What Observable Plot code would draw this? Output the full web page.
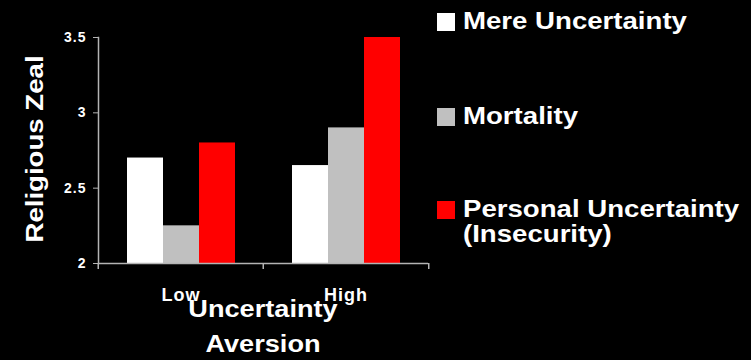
<!DOCTYPE html>
<html>
<head>
<meta charset="utf-8">
<script src="https://cdn.jsdelivr.net/npm/d3@7"></script>
<script src="https://cdn.jsdelivr.net/npm/@observablehq/plot@0.6"></script>
<style>
  html, body { margin: 0; padding: 0; background: #000; }
  #wrap { position: relative; width: 751px; height: 360px; background: #000; overflow: hidden;
          font-family: "Liberation Sans", Arial, sans-serif; font-weight: bold; color: #fff; }
  #wrap svg { position: absolute; left: 0; top: 0; }
  #wrap svg text { font-weight: bold; }
  .lbl { position: absolute; white-space: nowrap; }
  .leg { position: absolute; left: 437px; }
  .sw { position: absolute; width: 18px; height: 18px; }
  .lt { position: absolute; left: 26px; font-size: 24px; line-height: 25px; white-space: nowrap;
        transform: scaleX(1.15); transform-origin: left center; }
</style>
</head>
<body>
<div id="wrap"></div>
<script>
// ---- data ----
const groups = ["Low", "High"];
const series = ["Mere Uncertainty", "Mortality", "Personal Uncertainty (Insecurity)"];
const legendLines = [["Mere Uncertainty"], ["Mortality"], ["Personal Uncertainty", "(Insecurity)"]];
const mereUncertainty = [2.7, 2.65];
const mortality = [2.25, 2.9];
const personalUncertainty = [2.8, 3.5];
const colors = ["#ffffff", "#c0c0c0", "#ff0000"];
const yTicks = [2, 2.5, 3, 3.5];
const yDomain = [2, 3.5];
const yTitle = "Religious Zeal";
const xTitle = ["Uncertainty", "Aversion"];

const valuesBySeries = [mereUncertainty, mortality, personalUncertainty];
const rows = [];
groups.forEach((g, gi) => series.forEach((s, si) => rows.push({group: g, series: s, value: valuesBySeries[si][gi]})));

const W = 751, H = 360, mL = 97, mR = 323, mT = 37, mB = 97;
const axisColor = "#b4b4b4";
const fxStep = (W - mL - mR) / groups.length;

const plot = Plot.plot({
  width: W, height: H,
  marginLeft: mL, marginRight: mR, marginTop: mT, marginBottom: mB,
  style: {background: "#000", color: "#fff", fontFamily: "'Liberation Sans', Arial, sans-serif", overflow: "visible"},
  fx: {domain: groups, padding: 0},
  x: {domain: series, paddingInner: 0, paddingOuter: 0.74, axis: null},
  y: {domain: yDomain, axis: null},
  color: {domain: series, range: colors},
  marks: [
    Plot.barY(rows, {fx: "group", x: "series", y1: yDomain[0], y2: "value", fill: "series"}),
    Plot.ruleY([yDomain[0]], {stroke: axisColor, strokeWidth: 1.5}),
    Plot.frame({anchor: "left", stroke: axisColor, strokeWidth: 1.5, facet: "super"}),
    Plot.axisY({ticks: yTicks, tickSize: 5, tickPadding: 7, stroke: axisColor, fill: "#fff",
      fontSize: 14, fontWeight: "bold", label: null, tickFormat: d => String(d)}),
    Plot.axisFx({anchor: "bottom", tickSize: 0, tickPadding: 25, fill: "#fff", fontSize: 18,
      fontWeight: "bold", label: null}),
    Plot.axisFx({anchor: "bottom", tickSize: 6, stroke: axisColor, strokeWidth: 1.5, tickFormat: () => "", label: null, dx: -fxStep / 2}),
    Plot.axisFx({anchor: "bottom", ticks: [groups[groups.length - 1]], tickSize: 6, stroke: axisColor, strokeWidth: 1.5, tickFormat: () => "", label: null, dx: fxStep / 2})
  ]
});
const wrap = document.getElementById("wrap");
wrap.appendChild(plot);
d3.select(plot).selectAll("text").style("letter-spacing", "1px").style("font-weight", "bold");

// y title
const yt = document.createElement("div");
yt.className = "lbl";
yt.textContent = yTitle;
Object.assign(yt.style, {left: "35px", top: "149px", fontSize: "24px", lineHeight: "24px",
  transform: "translate(-50%,-50%) rotate(-90deg) scaleX(1.15)"});
wrap.appendChild(yt);

// x title
const xt = document.createElement("div");
xt.className = "lbl";
xt.innerHTML = xTitle.join("<br>");
Object.assign(xt.style, {left: "263px", top: "292px", fontSize: "23px", lineHeight: "35px", textAlign: "center",
  transform: "translateX(-50%) scaleX(1.18)"});
wrap.appendChild(xt);

// legend
const legTops = [8, 103, 196];
legendLines.forEach((lines, i) => {
  const d = document.createElement("div");
  d.className = "leg";
  d.style.top = legTops[i] + "px";
  const sw = document.createElement("div");
  sw.className = "sw";
  sw.style.background = colors[i];
  sw.style.top = "5px";
  d.appendChild(sw);
  const t = document.createElement("div");
  t.className = "lt";
  t.innerHTML = lines.join("<br>");
  d.appendChild(t);
  wrap.appendChild(d);
});
</script>
</body>
</html>
